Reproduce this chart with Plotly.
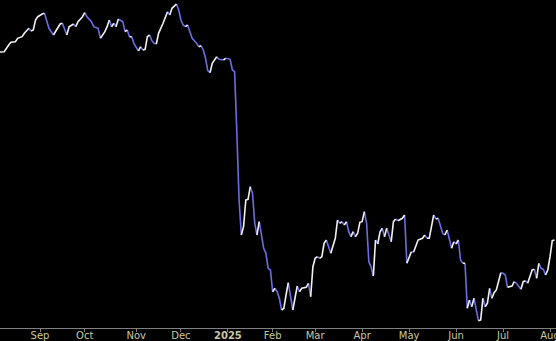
import plotly.graph_objects as go

# Trading-day index (0 = first session shown, early Aug 2024) and closing level (arbitrary units)
day_idx = [0, 2, 4, 5, 7, 8, 10, 11, 13, 14, 15, 16, 17, 19, 20, 21, 22, 24, 25, 27,
           28, 29, 30, 31, 33, 34, 35, 37, 38, 39, 41, 42, 44, 45, 47, 48, 49, 50, 51, 52,
           53, 55, 56, 57, 58, 59, 60, 62, 63, 64, 65, 66, 67, 68, 69, 70, 71, 73, 74, 75,
           76, 77, 79, 80, 81, 82, 83, 84, 85, 86, 88, 89, 90, 91, 92, 93, 94, 95, 97, 98,
           100, 101, 103, 104, 105, 106, 107, 108, 109, 110, 111, 112, 113, 114, 115, 116, 117, 118, 119, 120,
           121, 122, 123, 124, 125, 126, 127, 128, 129, 130, 131, 132, 133, 134, 135, 137, 138, 139, 140, 141,
           142, 143, 144, 145, 146, 148, 149, 150, 151, 152, 153, 154, 155, 156, 157, 158, 159, 160, 161, 162,
           163, 164, 165, 166, 167, 168, 169, 170, 171, 172, 173, 175, 176, 177, 178, 180, 181, 182, 183, 184,
           185, 186, 187, 189, 190, 191, 192, 193, 194, 195, 196, 197, 198, 199, 200, 201, 202, 203, 204, 205,
           206, 207, 208, 209, 210, 211, 212, 213, 214, 215, 216, 217, 218, 219, 220, 221, 222, 223, 224, 225,
           226, 227, 228, 229, 230, 231, 233, 234, 235, 236, 237, 238, 239, 240, 241, 242, 243, 244, 245, 246,
           247, 248]
values = [276, 276.3, 283, 285.7, 286.3, 289.7, 291.3, 294.7, 299.7, 297, 298, 308, 311.3, 314, 314.7, 308, 299.7, 293, 296.3, 304,
          304.7, 298, 293, 301.3, 304, 301.3, 306.3, 311.3, 315.3, 311.3, 306.3, 301.3, 299.7, 289.7, 296.3, 301.3, 308, 301.3, 304.7, 301.3,
          309, 306.3, 296.3, 298, 291.3, 291.3, 284.7, 277, 281.3, 278, 278.7, 291.3, 293, 287.3, 284.7, 284, 294.7, 304.7, 309.7, 316.3,
          313, 319.7, 324, 318, 308, 303, 301.3, 303, 296.3, 289.7, 284.7, 281.3, 282.3, 278, 269.7, 257.3, 255.3, 264.7, 271.3, 268.7,
          268, 269.7, 268.7, 258, 256.3, 195, 128, 93, 101.3, 128, 128.7, 141.3, 134.7, 104.7, 93, 106.3, 91.3, 79.7, 74.7, 59.7,
          58, 36.3, 39.7, 36.3, 29.7, 18, 19.7, 33, 45.3, 31.3, 18, 31.3, 42, 36.3, 39.7, 40.7, 44.7, 31.3, 61.3, 69.7,
          71.3, 69.7, 71.3, 84.7, 88, 74.7, 81.3, 89.7, 108, 104.7, 106.3, 103, 106.3, 96.3, 91.3, 96.3, 91.3, 94.7, 105.7, 106.3,
          116.3, 104.7, 66.3, 61.3, 52, 88, 84, 96.3, 99.7, 91.3, 99.7, 86.3, 106.3, 109, 107.3, 109.7, 113, 64.7, 71.3, 76.3,
          75.7, 83, 88, 89.7, 93, 89.7, 89.7, 101.3, 113, 109, 109.7, 101.3, 94.7, 93, 98, 89.7, 79.7, 86.3, 84, 88,
          68, 64.7, 64.7, 19.7, 28, 21.3, 29.7, 16.3, 7.3, 8, 29.7, 21.3, 24.7, 39.7, 29.7, 35.3, 38, 46.3, 55.3, 54.7,
          53, 40.7, 41.3, 42, 46.3, 44.7, 38.7, 46.3, 47.3, 44.7, 51.3, 58, 58.7, 49.7, 64.7, 59.7, 58.7, 53, 58, 71.3,
          87.3, 88]

tick_idx = [18, 38, 61, 81, 102, 122, 141, 162, 183, 204, 225, 246]
tick_labels = ["Sep", "Oct", "Nov", "Dec", "<b>2025</b>", "Feb", "Mar", "Apr", "May", "Jun", "Jul", "Aug"]

UP_COLOR = "#f2f2f2"
DOWN_COLOR = "#6c6ce4"

# split into monotonic runs: rising runs white, falling runs blue
up_x, up_y, dn_x, dn_y = [], [], [], []
i = 0
n = len(values)
while i < n - 1:
    rising = values[i + 1] >= values[i]
    j = i
    while j < n - 1 and (values[j + 1] >= values[j]) == rising:
        j += 1
    xs = day_idx[i:j + 1]
    ys = values[i:j + 1]
    if rising:
        up_x += xs + [None]
        up_y += ys + [None]
    else:
        dn_x += xs + [None]
        dn_y += ys + [None]
    i = j

fig = go.Figure()
fig.add_trace(go.Scatter(x=dn_x, y=dn_y, mode="lines", line=dict(color=DOWN_COLOR, width=1.6),
                         hoverinfo="skip", showlegend=False))
fig.add_trace(go.Scatter(x=up_x, y=up_y, mode="lines", line=dict(color=UP_COLOR, width=1.6),
                         hoverinfo="skip", showlegend=False))

fig.update_layout(
    width=556, height=341,
    margin=dict(l=0, r=0, t=0, b=13),
    paper_bgcolor="black", plot_bgcolor="black",
    xaxis=dict(range=[0.12, 248.67], showgrid=False, zeroline=False,
               showline=True, linecolor="#808080", linewidth=1,
               ticks="outside", ticklen=3, tickcolor="#808080", tickwidth=1,
               tickvals=tick_idx, ticktext=tick_labels,
               tickfont=dict(family="DejaVu Sans", size=10, color="#c8c8a0"),
               ticklabelstandoff=-5, ticklabeloverflow="allow",
               automargin=False, fixedrange=True),
    yaxis=dict(visible=False, range=[0, 328], fixedrange=True),
)

fig.write_html("out.html", config={"displayModeBar": False})
